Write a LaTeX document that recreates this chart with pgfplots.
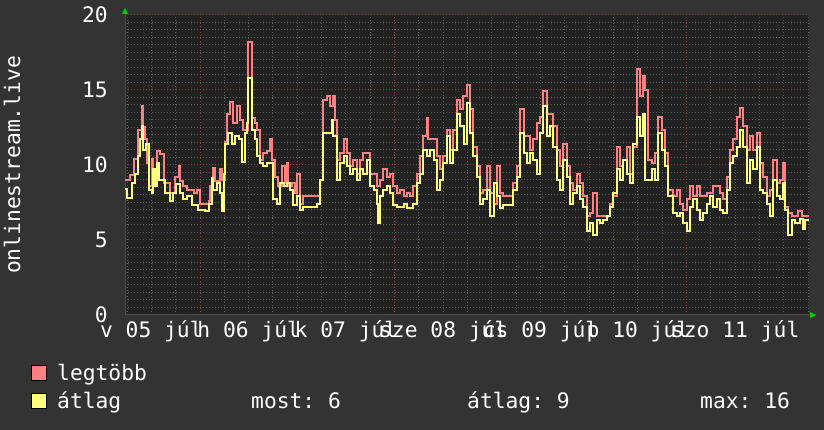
\documentclass[border=0pt]{standalone}
\usepackage{pgfplots}
\pgfplotsset{compat=1.18}
\usepackage{pgfplotstable}
\usepackage{fontspec}
\setmainfont{DejaVu Sans Mono}
\frenchspacing
\definecolor{bgout}{HTML}{333333}
\definecolor{bgin}{HTML}{222222}
\definecolor{mgrid}{HTML}{8A3C3C}
\definecolor{ngrid}{HTML}{5A5A5A}
\definecolor{axc}{HTML}{4A4A4A}
\definecolor{cmax}{HTML}{FF8080}
\definecolor{cavg}{HTML}{FFFF80}
\definecolor{arr}{HTML}{00CC00}
\newcommand{\lf}{\fontsize{21.3}{25}\selectfont\frenchspacing}

\pgfplotstableread{
h v
125.5 9.0
126.7 9.3
127.6 10.4
128.8 12.3
129.6 13.9
130.0 12.5
130.4 11.7
130.9 10.1
131.3 8.6
132.1 10.4
132.5 9.2
133.3 10.9
134.1 10.7
135.0 8.8
136.6 8.1
137.8 9.2
138.7 9.9
139.1 8.9
139.9 8.6
140.7 8.3
142.4 8.1
143.2 8.3
144.0 7.4
146.1 7.6
146.5 8.6
147.3 9.8
147.7 8.9
149.0 9.7
149.3 9.0
150.2 11.5
150.6 13.4
151.4 14.2
152.2 12.8
153.0 13.9
153.9 13.0
154.7 12.3
155.9 18.2
156.7 13.1
157.6 12.8
158.0 12.3
158.8 10.3
159.6 10.8
160.4 10.9
161.3 11.7
161.7 10.3
162.5 9.2
163.3 8.6
164.1 9.9
165.0 8.8
165.4 10.1
165.8 8.6
166.6 8.8
167.4 8.1
167.8 9.4
168.7 7.4
169.5 7.9
173.6 9.0
174.4 14.3
175.2 14.6
176.1 13.9
176.9 14.6
177.3 13.0
177.7 10.3
178.5 10.8
179.4 11.7
180.2 10.8
181.0 9.9
181.8 10.3
182.6 9.4
183.5 10.3
184.3 10.8
185.9 9.4
187.6 8.6
188.4 9.0
189.2 9.7
190.0 9.2
190.9 9.4
191.7 8.6
192.5 8.1
193.3 8.3
194.2 7.9
195.0 8.1
195.8 7.9
196.6 8.6
197.4 9.4
198.3 10.6
199.1 11.9
199.9 13.1
200.3 11.7
202.4 10.6
203.2 9.7
204.0 10.6
204.8 12.3
205.7 11.0
206.5 12.3
207.3 14.3
208.1 13.7
208.9 14.6
209.8 15.3
210.6 13.7
211.4 11.2
212.2 9.9
213.1 8.1
213.9 8.3
214.7 9.9
215.5 8.1
216.4 7.4
217.2 9.9
218.0 8.1
218.8 7.9
221.3 8.8
222.1 9.9
222.9 13.7
223.8 11.9
225.4 11.0
226.2 11.7
227.0 12.8
227.9 13.2
228.7 14.9
229.5 13.4
231.1 12.6
232.0 11.0
232.8 9.9
233.6 11.4
234.4 9.9
235.3 8.8
236.1 8.3
236.9 9.4
237.7 8.8
238.5 7.9
239.4 6.6
240.2 6.8
241.0 8.1
241.8 6.6
245.1 7.4
245.9 7.9
246.8 11.2
247.6 9.9
248.4 10.3
249.2 11.2
250.1 9.4
250.9 11.2
251.7 16.4
252.5 14.6
253.3 15.9
253.8 15.0
254.6 10.3
255.4 10.1
256.2 10.8
257.0 13.2
257.9 12.3
258.7 10.8
259.5 8.3
260.7 7.9
261.6 8.3
262.4 7.4
263.2 7.0
264.0 7.7
264.9 8.6
265.7 7.9
266.5 8.6
267.3 7.9
269.0 8.1
270.6 8.6
272.3 8.1
273.1 7.7
273.9 9.2
274.7 11.0
275.5 11.7
276.4 13.2
277.2 13.8
278.0 12.6
278.8 11.0
279.6 11.9
280.5 11.0
281.3 12.1
282.1 10.1
282.9 9.2
283.8 7.9
284.6 8.3
285.4 10.3
286.2 8.8
287.1 9.0
287.9 10.1
288.3 7.2
289.1 6.8
289.9 6.6
291.6 6.9
292.4 6.6
294.2 6.6
}\maxtab

\pgfplotstableread{
h v
125.5 8.4
125.9 7.8
127.2 8.8
128.0 9.4
128.8 10.6
129.2 11.7
129.6 12.6
130.0 11.0
130.7 11.4
131.3 8.3
132.1 8.1
132.5 9.7
132.9 8.6
133.3 10.1
134.0 9.0
135.4 8.1
136.6 7.6
137.4 8.1
138.2 8.7
139.1 8.1
139.9 7.7
140.7 7.9
142.0 7.3
143.6 7.0
145.2 6.9
146.1 7.4
146.9 9.1
147.3 8.3
148.1 8.8
149.0 8.1
149.3 6.9
149.8 9.4
150.2 11.4
151.0 12.1
151.8 11.4
152.6 11.9
153.5 11.7
154.3 10.2
155.1 12.1
155.5 12.8
155.9 15.8
156.7 12.3
157.6 11.7
158.0 10.6
158.8 10.1
159.6 9.9
160.4 10.1
162.1 7.7
162.9 7.4
163.7 8.8
164.6 8.6
165.4 8.8
166.2 8.3
167.0 7.3
167.8 7.9
168.7 7.0
169.5 7.2
172.8 7.4
173.6 9.0
174.4 12.1
176.5 13.0
176.9 11.9
177.7 9.0
178.5 10.1
179.4 10.6
180.2 9.9
181.0 9.4
181.8 9.7
182.6 9.0
183.5 9.7
184.3 9.4
185.1 10.3
185.9 8.6
186.8 8.3
187.6 7.4
188.0 6.1
188.4 7.9
189.2 8.3
190.0 8.6
190.9 8.1
191.7 7.3
192.5 7.2
194.2 7.4
195.0 7.1
196.6 7.4
197.4 8.8
198.3 9.4
199.1 11.0
199.9 10.6
200.7 11.0
201.6 10.3
202.4 8.3
203.2 9.0
204.0 10.1
204.8 11.9
205.7 10.1
206.5 11.0
207.3 13.4
208.1 12.6
209.0 11.4
209.8 14.1
210.6 12.1
211.4 10.6
212.2 9.2
213.1 7.4
213.9 7.7
214.7 8.3
215.5 6.6
216.4 8.8
217.2 7.9
218.0 7.1
218.8 7.3
221.3 8.3
222.1 9.2
222.9 12.1
223.8 10.8
224.6 10.1
225.4 10.8
226.2 10.3
227.0 9.4
227.9 12.1
228.7 13.9
229.5 11.9
230.3 12.6
231.1 11.2
232.0 9.0
232.8 8.3
233.6 10.3
234.4 9.2
235.3 7.4
236.1 8.1
236.9 8.6
237.7 7.7
238.5 7.2
239.4 5.6
240.2 6.1
241.0 5.3
241.8 6.3
242.7 6.1
243.5 6.3
244.3 6.6
245.1 7.2
245.9 8.1
246.8 9.7
247.6 9.0
248.4 10.3
249.2 9.4
250.1 8.8
250.9 11.4
251.7 13.2
252.5 11.9
253.3 13.4
253.8 9.0
255.4 9.7
256.2 9.0
257.0 12.1
257.9 11.0
258.7 9.9
259.5 7.9
260.7 6.8
261.6 6.6
262.4 6.8
263.2 6.1
264.0 5.6
264.9 7.2
265.7 7.7
266.5 7.0
267.3 6.3
268.1 6.8
269.0 7.4
269.8 7.9
270.6 7.2
271.4 7.7
272.3 7.0
273.1 6.8
273.9 8.3
274.7 10.1
275.5 10.6
276.4 11.2
277.2 12.3
278.0 11.2
278.8 8.8
279.6 10.3
280.5 9.7
281.3 11.2
282.1 8.3
282.9 8.1
283.8 7.4
284.6 6.6
285.4 9.0
286.2 7.9
287.1 7.7
287.9 8.8
288.3 7.0
289.1 5.3
289.9 6.3
290.8 6.1
292.0 6.4
292.8 5.7
293.3 6.3
294.2 6.3
}\avgtab

\begin{document}
\begin{tikzpicture}[font=\lf]
\useasboundingbox (0,0) rectangle (824pt,430pt);
\fill[bgout] (0,0) rectangle (824pt,430pt);
\begin{axis}[
  at={(125pt,115pt)}, anchor=south west,
  scale only axis, width=684pt, height=300pt,
  xmin=125.5, xmax=294.2, ymin=0, ymax=20,
  axis x line*=bottom, axis y line*=left,
  axis line style={draw=axc, line width=1pt},
  axis background/.style={fill=bgin},
  xtick={144,168,192,216,240,264,288},
  xticklabels={,,,,,,},
  minor xtick={126,132,138,150,156,162,174,180,186,198,204,210,222,228,234,246,252,258,270,276,282,294},
  extra x ticks={132,156,180,204,228,252,276},
  extra x tick labels={v 05 júl,h 06 júl,k 07 júl,sze 08 júl,cs 09 júl,p 10 júl,szo 11 júl},
  extra x tick style={grid=none},
  ytick={0,5,10,15,20},
  minor y tick num=9,
  grid=both,
  major grid style={draw=mgrid, dash pattern=on 1pt off 2pt, line width=1pt},
  minor grid style={draw=ngrid, dash pattern=on 1pt off 2pt, line width=1pt},
  major tick length=0pt, minor tick length=0pt,
  tick style={draw=none},
  tick label style={font=\lf, text=white},
  /pgf/number format/assume math mode=true,
  xticklabel style={anchor=base, yshift=-23pt, inner sep=0pt},
  yticklabel style={anchor=east, xshift=-17pt, inner sep=0pt},
]
\addplot[const plot, color=cmax, line width=2pt, mark=none] table[x=h,y=v]{\maxtab};
\addplot[const plot, color=cavg, line width=2pt, mark=none] table[x=h,y=v]{\avgtab};
\end{axis}
% axis arrows
\fill[arr] (122pt,416pt) -- (128pt,416pt) -- (125pt,422pt) -- cycle;
\fill[arr] (810pt,118pt) -- (810pt,112pt) -- (816pt,115pt) -- cycle;
% y label
\node[rotate=90, anchor=base, inner sep=0pt, text=white] at (20pt,265pt) {onlinestream.live};
% legend
\filldraw[fill=cmax, draw=black, line width=1pt] (31.5pt,49pt) rectangle (46.5pt,64pt);
\filldraw[fill=cavg, draw=black, line width=1pt] (31.5pt,21pt) rectangle (46.5pt,36pt);
\node[anchor=base west, inner sep=0pt, text=white] at (57pt,49pt) {legtöbb};
\node[anchor=base west, inner sep=0pt, text=white] at (57pt,21pt) {átlag};
\node[anchor=base west, inner sep=0pt, text=white] at (251pt,21pt) {most: 6};
\node[anchor=base west, inner sep=0pt, text=white] at (467pt,21pt) {átlag: 9};
\node[anchor=base west, inner sep=0pt, text=white] at (700pt,21pt) {max: 16};
\end{tikzpicture}
\end{document}
